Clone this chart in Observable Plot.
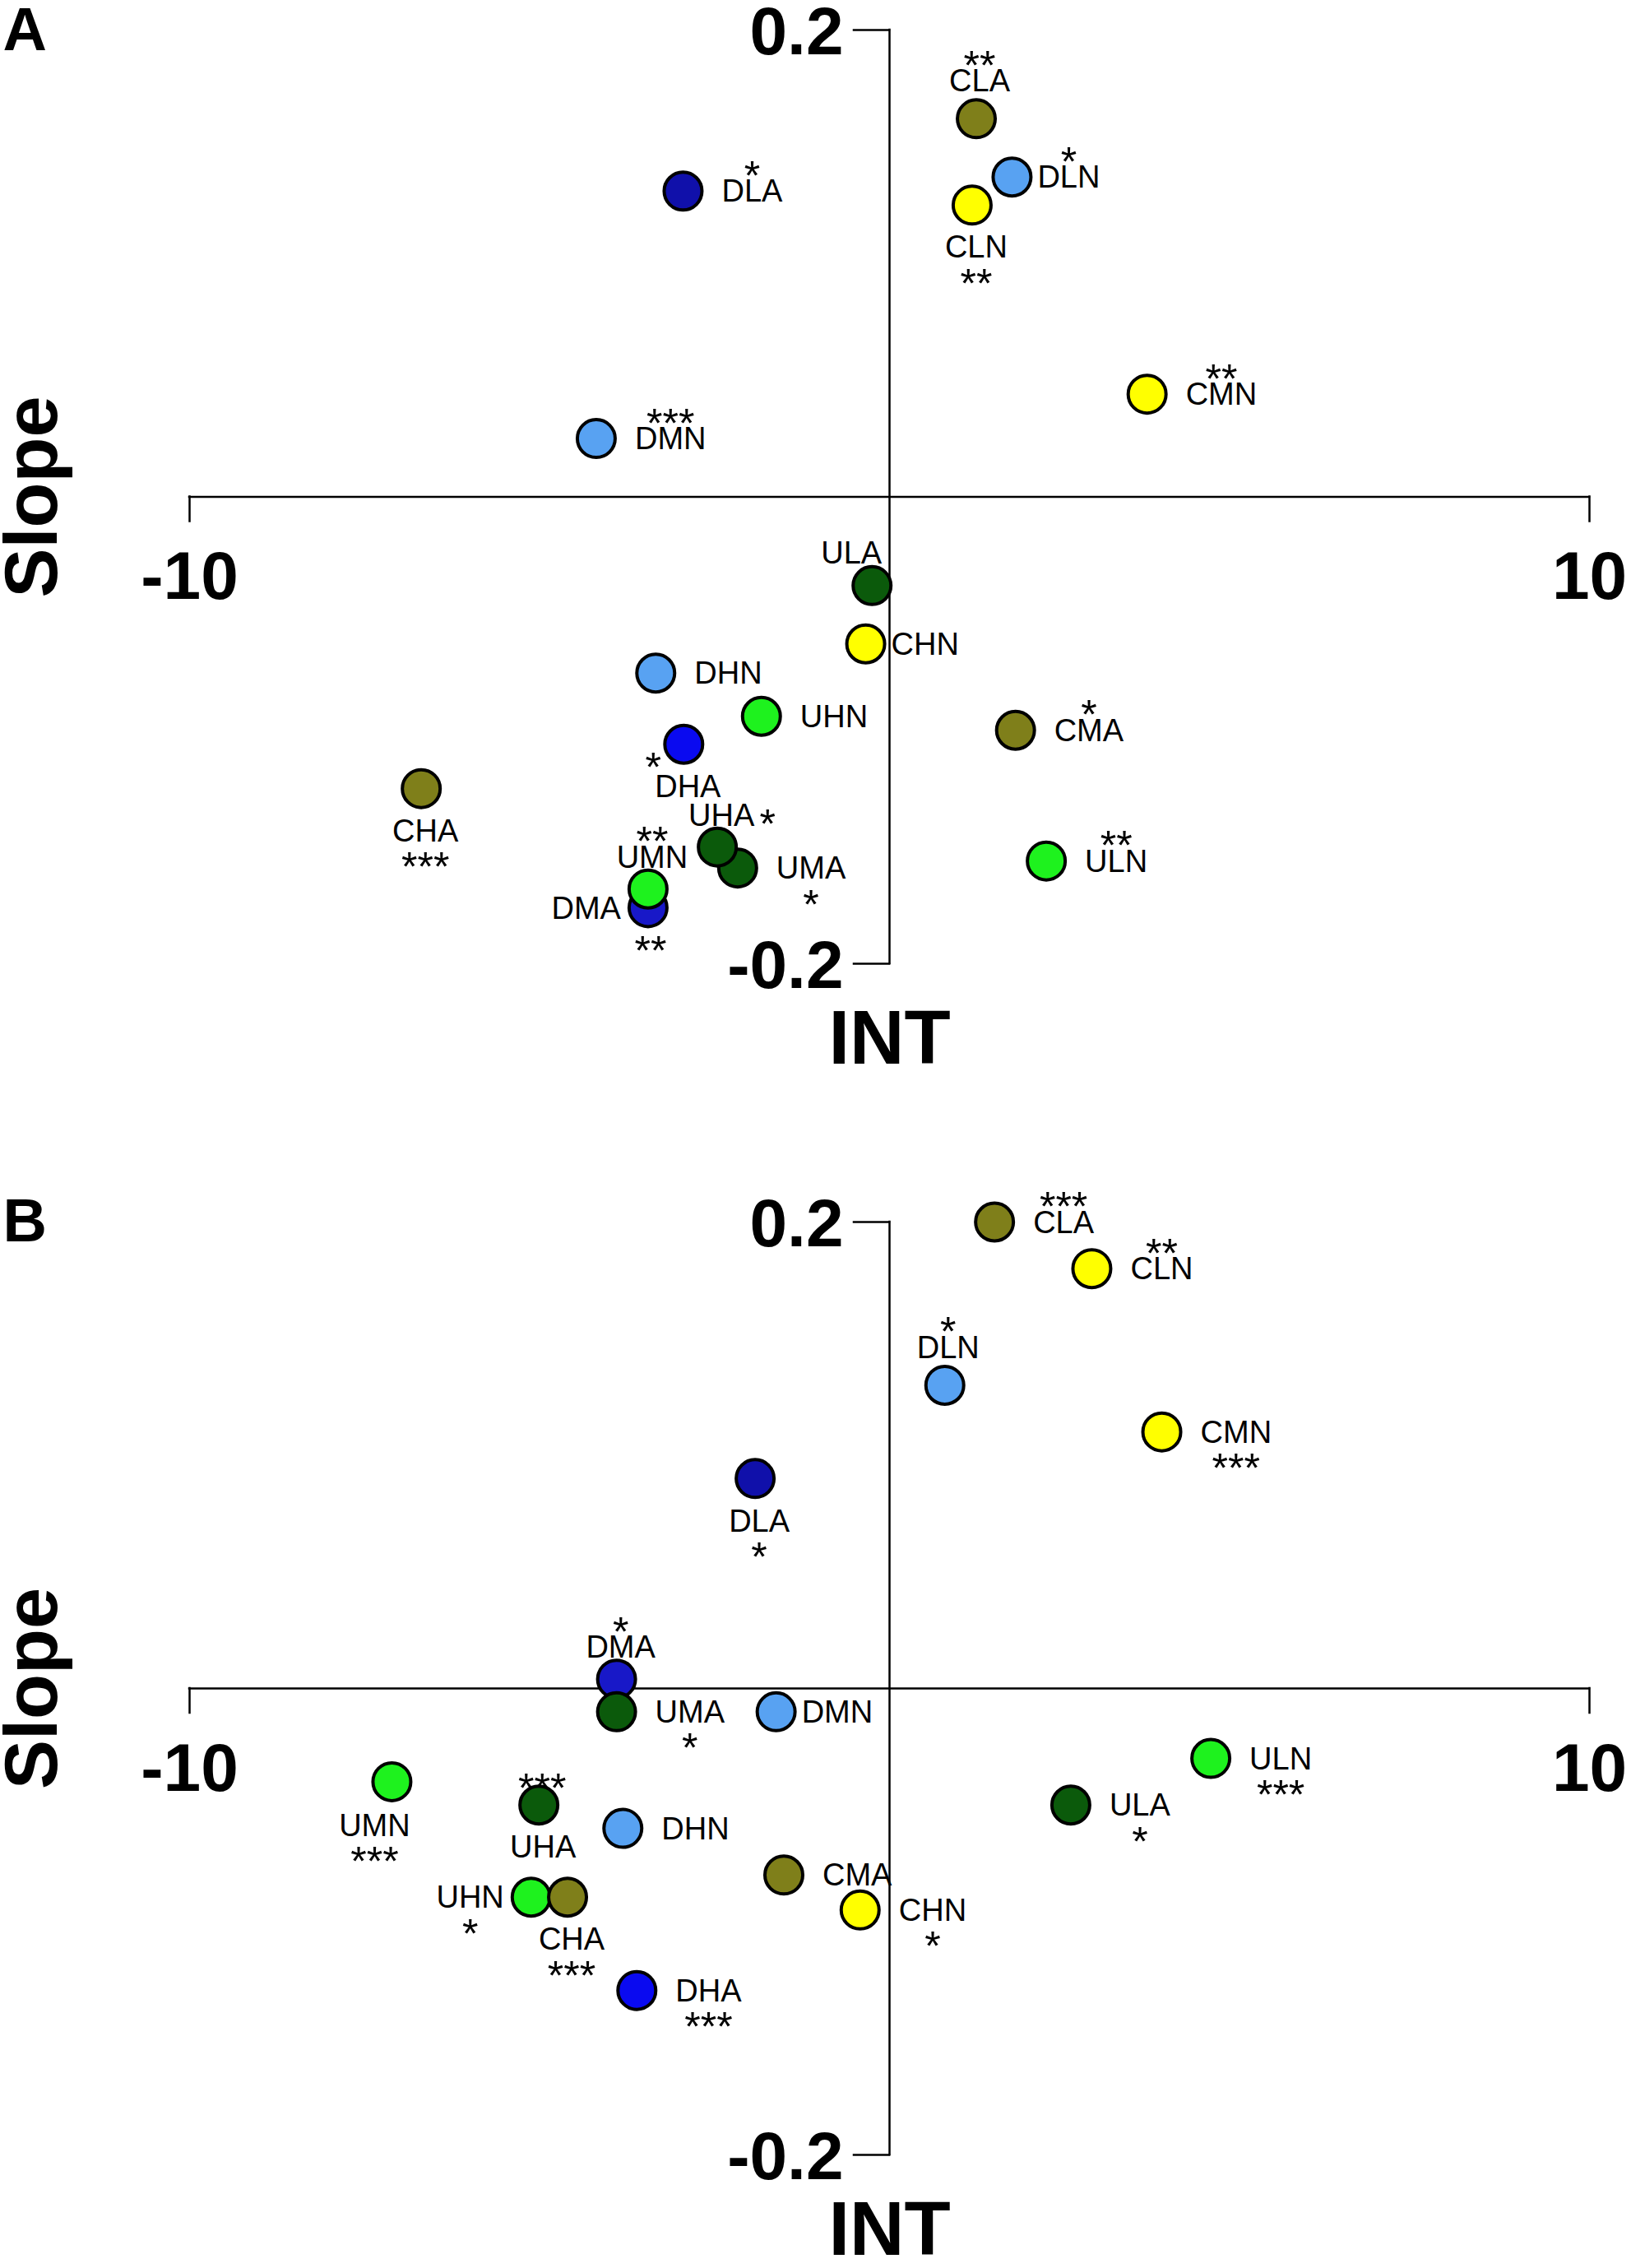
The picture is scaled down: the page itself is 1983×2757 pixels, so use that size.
<!DOCTYPE html>
<html>
<head>
<meta charset="utf-8">
<script src="https://cdn.jsdelivr.net/npm/d3@7"></script>
<script src="https://cdn.jsdelivr.net/npm/@observablehq/plot@0.6"></script>
<style>
  html, body { margin: 0; padding: 0; background: #fff; }
  svg { display: block; }
</style>
</head>
<body>
<div id="chart"></div>
<script>
// ---------- data ----------
const xTicks = [-10, 10];
const yTicks = [-0.2, 0.2];
const xTitle = "INT";
const yTitle = "Slope";
const panelLetters = ["A", "B"];

// Panel A
const namesA   = ["DLA","DMN","CLA","DLN","CLN","CMN","ULA","CHN","DHN","UHN","DHA","CHA","CMA","ULN","UMA","UHA","DMA","UMN"];
const intA     = [-2.95,-4.19, 1.24, 1.75, 1.18, 3.68,-0.25,-0.34,-3.34,-1.83,-2.94,-6.69, 1.80, 2.24,-2.17,-2.46,-3.45,-3.45];
const slopeA   = [0.131,0.025,0.162,0.137,0.125,0.044,-0.038,-0.063,-0.0755,-0.094,-0.106,-0.125,-0.100,-0.156,-0.159,-0.150,-0.176,-0.168];
const starsA   = ["*","***","**","*","**","**","","","","","*","***","*","**","*","*","**","**"];
const labelPosA= ["R","R","A","r","B","R","AL","r","R","R","B","B","R","R","R","a","L","a"];
const starPosA = ["a","a","a","a","b","a","","","","","pbl","b","a","a","b","r","pb","a"];

// Panel B
const namesB   = ["DLA","DMA","UMA","DMN","CLA","CLN","DLN","CMN","UMN","UHA","DHN","CMA","CHN","UHN","CHA","DHA","ULA","ULN"];
const intB     = [-1.92,-3.90,-3.90,-1.62, 1.50, 2.89, 0.79, 3.89,-7.11,-5.01,-3.81,-1.51,-0.42,-5.12,-4.60,-3.61, 2.59, 4.59];
const slopeB   = [0.090,0.004,-0.010,-0.010,0.200,0.180,0.130,0.110,-0.040,-0.050,-0.060,-0.080,-0.095,-0.0895,-0.0895,-0.1295,-0.050,-0.030];
const starsB   = ["*","*","*","","***","**","*","***","***","***","","","*","*","***","***","*","***"];
const labelPosB= ["B","a","R","r","R","R","A","R","BL","B","R","R","R","L","B","R","R","R"];
const starPosB = ["b","a","b","","a","a","a","b","b","pa","","","b","b","b","b","b","b"];

// ---------- styles ----------
const colorOf = {
  DLA: "#1010aa", DMA: "#1818c8", DHA: "#0a0af0",
  DLN: "#58a2f2", DMN: "#58a2f2", DHN: "#58a2f2",
  CLA: "#7f7f1a", CMA: "#7f7f1a", CHA: "#7f7f1a",
  CLN: "#ffff00", CMN: "#ffff00", CHN: "#ffff00",
  ULA: "#0b5a0b", UMA: "#0b5a0b", UHA: "#0b5a0b",
  ULN: "#1ef21e", UMN: "#1ef21e", UHN: "#1ef21e"
};
const FONT = "'Liberation Sans', Arial, Helvetica, sans-serif";
const LABEL_FS = 38, STAR_FS = 50;
const W = 1983, ML = 230, MR = 51;

const ctx = document.createElement("canvas").getContext("2d");
function textWidth(s, size) {
  ctx.font = `${size}px "Liberation Sans", Arial, sans-serif`;
  return ctx.measureText(s).width;
}

// label centre offsets (pixels) relative to point, given label width w
const LABEL_OFFSETS = {
  R:  w => [47 + w / 2, 0],
  r:  w => [31 + w / 2, 0],
  A:  w => [4, -46],
  a:  w => [5, -39],
  B:  w => [5, 51],
  L:  w => [-33 - w / 2, 0],
  AL: w => [-25, -40],
  BL: w => [-21, 53]
};
// star centre offsets (pixels) relative to point, given label centre lc and label width w
const STAR_OFFSETS = {
  a:   (lc, w) => [lc[0], lc[1] - 30],
  b:   (lc, w) => [lc[0], lc[1] + 33],
  r:   (lc, w) => [lc[0] + w / 2 + 16, lc[1]],
  pb:  (lc, w) => [3, 41],
  pbl: (lc, w) => [-37, 17],
  pa:  (lc, w) => [4, -32]
};

function panel(letter, names, xs, ys, stars, lpos, spos, height, mTop, mBottom) {
  const pxPerX = (W - ML - MR) / (xTicks[1] - xTicks[0]);
  const pxPerY = (height - mTop - mBottom) / (yTicks[1] - yTicks[0]);
  const data = names.map((n, i) => {
    const w = textWidth(n, LABEL_FS);
    const lc = LABEL_OFFSETS[lpos[i]](w);
    const sc = spos[i] ? STAR_OFFSETS[spos[i]](lc, w) : null;
    return {
      name: n, x: xs[i], y: ys[i], stars: stars[i],
      lx: xs[i] + lc[0] / pxPerX,
      ly: ys[i] - (lc[1] + 1) / pxPerY,
      sx: sc ? xs[i] + sc[0] / pxPerX : null,
      sy: sc ? ys[i] - (sc[1] + 12.5) / pxPerY : null
    };
  });
  const tickDown = 30 / pxPerY;
  const tickLeft = 43 / pxPerX;
  const lineStyle = {stroke: "black", strokeWidth: 2.5, strokeLinecap: "square"};

  return Plot.plot({
    width: W, height,
    marginLeft: ML, marginRight: MR, marginTop: mTop, marginBottom: mBottom,
    x: {domain: xTicks, axis: null},
    y: {domain: yTicks, axis: null},
    color: {type: "identity"},
    style: {fontFamily: FONT, background: "white", overflow: "visible"},
    marks: [
      // axes as a cross through the origin
      Plot.ruleY([0], {x1: xTicks[0], x2: xTicks[1], ...lineStyle}),
      Plot.ruleX([0], {y1: yTicks[0], y2: yTicks[1], ...lineStyle}),
      Plot.ruleX(xTicks, {x: d => d, y1: 0, y2: -tickDown, ...lineStyle}),
      Plot.ruleY(yTicks, {y: d => d, x1: 0, x2: -tickLeft, ...lineStyle}),
      // tick labels
      Plot.text(xTicks, {x: d => d, y: 0, text: d => String(d), lineAnchor: "top", dy: 66,
        fontSize: 82, fontWeight: "bold", fill: "black"}),
      Plot.text(yTicks, {x: 0, y: d => d, text: d => String(d), textAnchor: "end", dx: -56, dy: 3,
        fontSize: 82, fontWeight: "bold", fill: "black"}),
      // axis titles
      Plot.text([xTitle], {x: 0, y: yTicks[0], text: d => d, lineAnchor: "top", dy: 56,
        fontSize: 92, fontWeight: "bold", fill: "black"}),
      Plot.text([yTitle], {frameAnchor: "left", text: d => d, rotate: -90, dx: -190,
        textAnchor: "middle", lineAnchor: "middle",
        fontSize: 90, fontWeight: "bold", fill: "black"}),
      // panel letter
      Plot.text([letter], {frameAnchor: "top-left", text: d => d, textAnchor: "start", lineAnchor: "top",
        dx: -227, dy: 8 - mTop, fontSize: 74, fontWeight: "bold", fill: "black"}),
      // points
      Plot.dot(data, {x: "x", y: "y", r: 23, fill: d => colorOf[d.name], stroke: "black", strokeWidth: 4}),
      // labels
      Plot.text(data, {x: "lx", y: "ly", text: "name", fontSize: LABEL_FS, fill: "black"}),
      Plot.text(data.filter(d => d.stars), {x: "sx", y: "sy", text: "stars", fontSize: STAR_FS, fill: "black"})
    ]
  });
}

const chart = document.getElementById("chart");
chart.append(panel(panelLetters[0], namesA, intA, slopeA, starsA, labelPosA, starPosA, 1448, 36, 277));
chart.append(panel(panelLetters[1], namesB, intB, slopeB, starsB, labelPosB, starPosB, 1309, 37, 138));
</script>
</body>
</html>
